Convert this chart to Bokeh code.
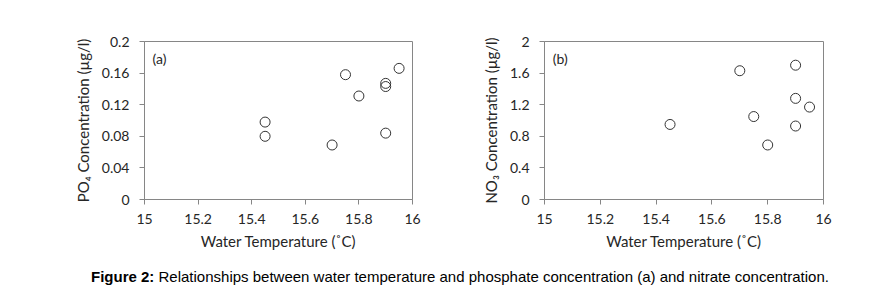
from bokeh.plotting import figure
from bokeh.layouts import column, row
from bokeh.models import Div, Label, FixedTicker, CustomJSTickFormatter, Range1d
from bokeh.embed import file_html
from bokeh.resources import INLINE

# Data
temp_a = [15.45, 15.45, 15.70, 15.75, 15.80, 15.90, 15.90, 15.90, 15.95]
po4 = [0.098, 0.080, 0.069, 0.158, 0.131, 0.147, 0.143, 0.084, 0.166]

temp_b = [15.45, 15.70, 15.75, 15.80, 15.90, 15.90, 15.90, 15.95]
no3 = [0.95, 1.63, 1.05, 0.69, 1.70, 1.28, 0.93, 1.17]

x_ticks = [15, 15.2, 15.4, 15.6, 15.8, 16]
ya_ticks = [0, 0.04, 0.08, 0.12, 0.16, 0.2]
yb_ticks = [0, 0.4, 0.8, 1.2, 1.6, 2]

FONT = "Lato"
AX = "#868686"
TXT = "#262626"

fmt = CustomJSTickFormatter(code="return String(Number(tick.toFixed(3)));")


def make(xs, ys, yticks, ymax, ylabel, tag, w, bl, br, bt, bb, h=268):
    p = figure(width=w, height=h, output_backend="svg", toolbar_location=None,
               x_range=Range1d(15, 16), y_range=Range1d(0, ymax),
               min_border_left=bl, min_border_right=br,
               min_border_top=bt, min_border_bottom=bb)
    p.grid.visible = False
    p.outline_line_color = AX
    p.outline_line_width = 1
    p.background_fill_color = "white"
    p.border_fill_color = "white"
    for ax in (p.xaxis[0], p.yaxis[0]):
        ax.axis_line_color = AX
        ax.major_tick_line_color = AX
        ax.major_tick_in = 0
        ax.major_tick_out = 5
        ax.minor_tick_line_color = None
        ax.major_label_text_font = FONT
        ax.major_label_text_font_size = "14px"
        ax.major_label_text_color = TXT
        ax.axis_label_text_font = FONT
        ax.axis_label_text_font_size = "15px"
        ax.axis_label_text_font_style = "normal"
        ax.axis_label_text_color = TXT
        ax.formatter = fmt
    p.xaxis.ticker = FixedTicker(ticks=x_ticks)
    p.yaxis.ticker = FixedTicker(ticks=yticks)
    p.xaxis.axis_label = "Water Temperature (˚C)"
    p.yaxis.axis_label = ylabel
    p.xaxis.major_label_standoff = 9
    p.xaxis.axis_label_standoff = 5
    p.yaxis.major_label_standoff = 10
    p.yaxis.axis_label_standoff = 7
    p.scatter(xs, ys, marker="circle", size=10, fill_color=None,
              line_color="#333333", line_width=1)
    p.add_layout(Label(x=15.03, y=ymax * 0.89, text=tag, text_font=FONT,
                       text_font_size="14px", text_color=TXT,
                       text_baseline="middle"))
    return p


pa = make(temp_a, po4, ya_ticks, 0.2, "PO₄ Concentration (µg/l)", "(a)",
          w=478, bl=144, br=66, bt=40, bb=67)
pb = make(temp_b, no3, yb_ticks, 2, "NO₃ Concentration (µg/l)", "(b)",
          w=405, bl=65, br=60, bt=41, bb=69)

cap = Div(text='<div style="font-family:\'Liberation Sans\',Arial,sans-serif;'
               'font-size:15px;color:#000;padding-left:91px;line-height:17px;">'
               '<b>Figure 2:</b> Relationships between water temperature and '
               'phosphate concentration (a) and nitrate concentration.</div>',
          width=875, height=20, margin=(0, 0, 0, 0))

layout = column(row(pa, pb), cap)

open("out.html", "w").write(file_html(layout, INLINE))
